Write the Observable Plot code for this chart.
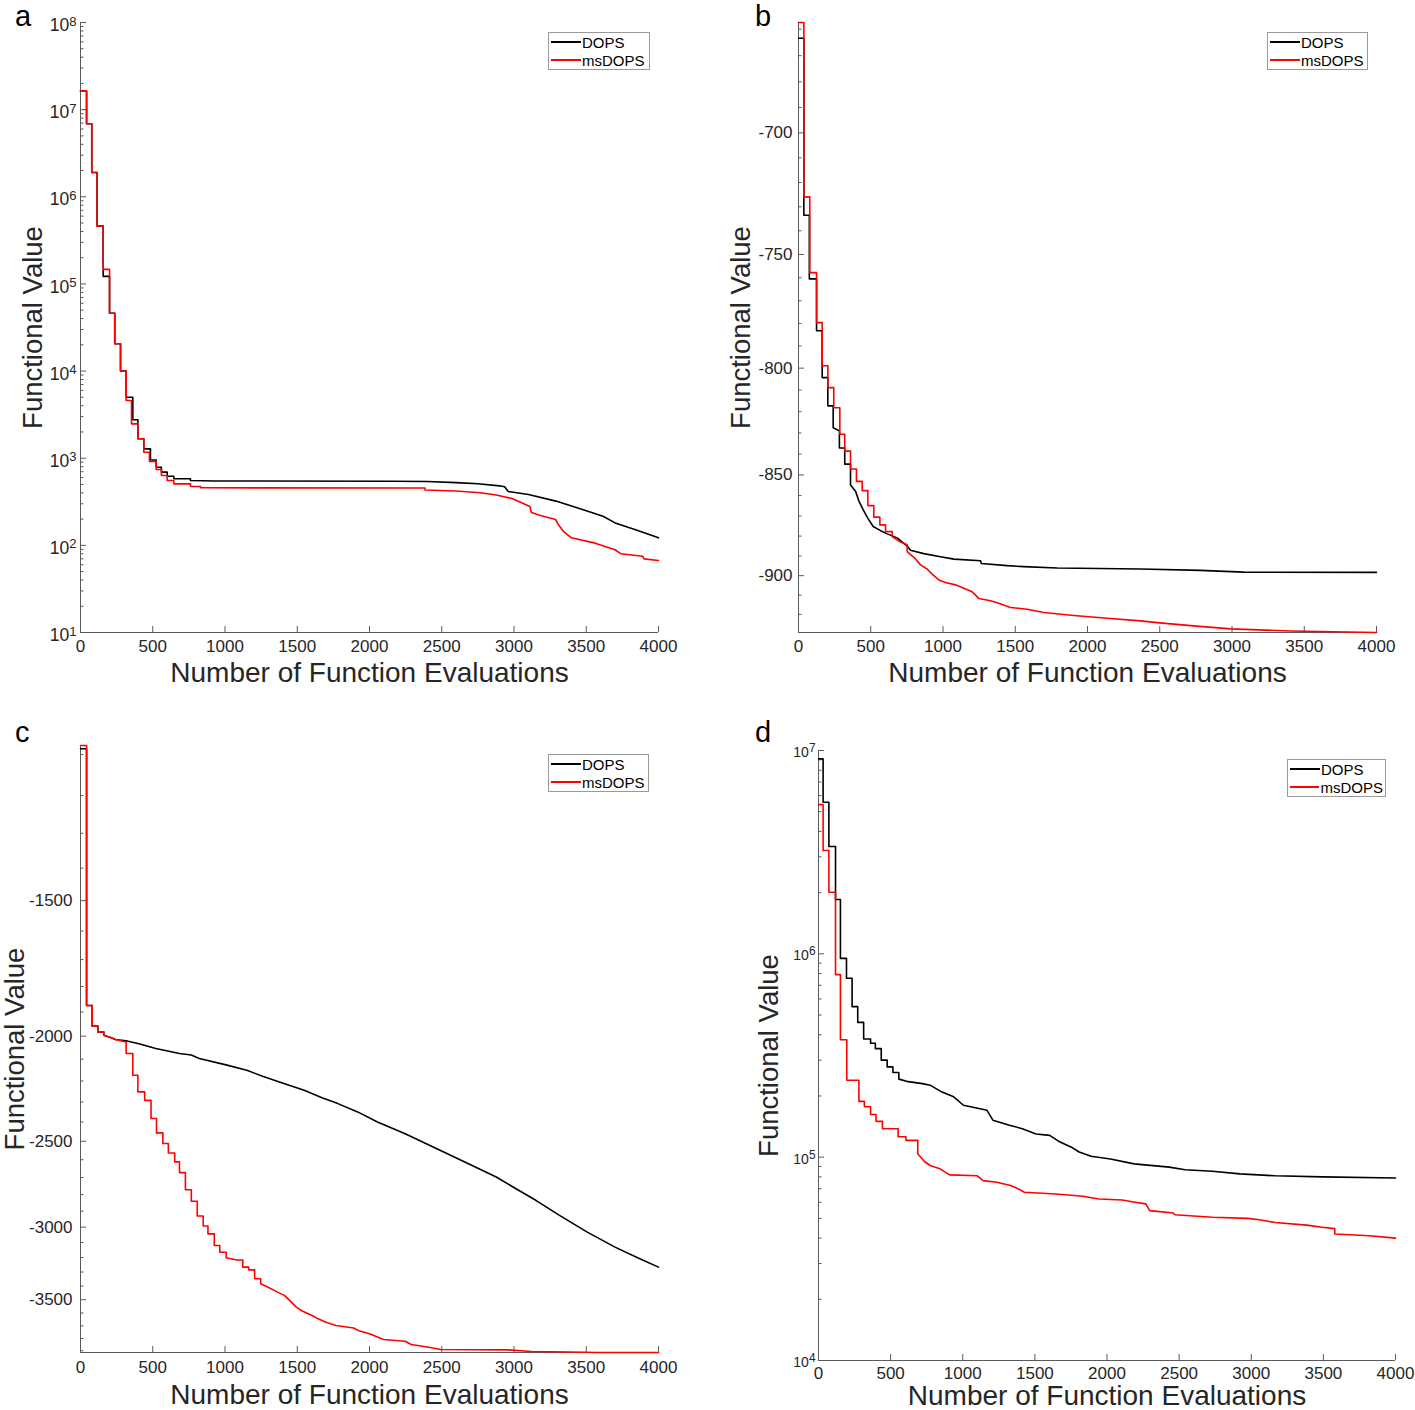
<!DOCTYPE html>
<html><head><meta charset="utf-8">
<script src="https://cdn.jsdelivr.net/npm/d3@7"></script>
<script src="https://cdn.jsdelivr.net/npm/@observablehq/plot@0.6"></script>
<style>
body{margin:0;background:#fff;font-family:"Liberation Sans",Arial,sans-serif;}
#root{position:relative;width:1415px;height:1410px;overflow:hidden;background:#fff;}
.panel{position:absolute;}
.legend{position:absolute;box-sizing:border-box;border:1px solid #9a9a9a;background:#fff;font-size:15px;color:#000;padding:0 2px;}
.legend .row{display:flex;align-items:center;height:18px;white-space:nowrap;}
.legend .sw{display:inline-block;width:30px;height:0;border-top:2px solid;margin-right:1px;}
#letters{position:absolute;left:0;top:0;pointer-events:none;}
</style></head><body><div id="root"></div>
<script>
// ---------- data (x = number of function evaluations, y = functional value) ----------
const xTicks = [0, 500, 1000, 1500, 2000, 2500, 3000, 3500, 4000];
const seriesNames = ["DOPS", "msDOPS"];

// panel a (log y)
const aTicks = [1e1, 1e2, 1e3, 1e4, 1e5, 1e6, 1e7, 1e8];
const aDOPS = [[0,1.63e7],[42,1.63e7],[42,6.9e6],[78,6.9e6],[78,1.9e6],[115,1.9e6],[115,4.6e5],[157,4.6e5],[157,1.22e5],[201,1.22e5],[201,4.6e4],[237,4.6e4],[237,2.06e4],[277,2.06e4],[277,1.0e4],[316,1.0e4],[316,5.0e3],[362,5.0e3],[362,2.76e3],[397,2.76e3],[397,1.67e3],[438,1.67e3],[438,1.28e3],[484,1.28e3],[484,955],[524,955],[524,789],[560,789],[560,692],[600,692],[600,622],[646,622],[646,581],[761,581],[761,555],[930,548],[2160,545],[2400,540],[2600,525],[2750,510],[2900,482],[2935,470],[2960,415],[3100,384],[3290,322],[3425,274],[3616,216],[3700,181],[3836,152],[4000,122]];
const aMsDOPS = [[0,1.63e7],[42,1.63e7],[42,6.9e6],[78,6.9e6],[78,1.9e6],[115,1.9e6],[115,4.6e5],[157,4.6e5],[157,1.47e5],[201,1.47e5],[201,4.6e4],[237,4.6e4],[237,2.06e4],[277,2.06e4],[277,1.0e4],[316,1.0e4],[316,4.6e3],[353,4.6e3],[353,2.48e3],[397,2.48e3],[397,1.67e3],[438,1.67e3],[438,1.17e3],[477,1.17e3],[477,916],[524,916],[524,743],[560,743],[560,634],[600,634],[600,555],[646,555],[646,508],[761,508],[761,473],[830,473],[830,458],[2384,455],[2384,432],[2600,420],[2767,402],[2877,378],[2986,345],[3068,300],[3110,280],[3120,238],[3178,222],[3288,198],[3310,170],[3342,145],[3397,122],[3562,106],[3699,89],[3740,80],[3890,75],[3900,70],[4000,67]];

// panel b (negative values, log of magnitude on the axis)
const bTicks = [-700, -750, -800, -850, -900];
const bDOPS = [[0,-663.4],[37,-663.4],[37,-733.5],[75,-733.5],[75,-760.5],[125,-760.5],[125,-783.2],[164,-783.2],[164,-804.3],[203,-804.3],[203,-817.3],[240,-817.3],[240,-827.5],[283,-829],[283,-837.1],[320,-837.1],[320,-844.8],[360,-844.8],[360,-854.8],[395,-857.9],[418,-862.7],[448,-867],[480,-871.2],[517,-875.2],[568,-877.3],[614,-878.9],[683,-880.9],[752,-885],[775,-887.1],[867,-888.8],[983,-890.4],[1075,-891.6],[1260,-892.4],[1265,-893.8],[1444,-894.9],[1559,-895.4],[1790,-896.1],[2367,-896.6],[2782,-897.3],[3080,-898.2],[4000,-898.3]];
const bMsDOPS = [[0,-657.5],[37,-657.5],[37,-725.9],[78,-725.9],[78,-757.8],[125,-757.8],[125,-779.6],[164,-779.6],[164,-798.9],[203,-798.9],[203,-808.9],[244,-808.9],[244,-818.2],[286,-818.2],[286,-830.6],[320,-830.6],[320,-838.6],[360,-838.6],[360,-847.1],[401,-847.1],[401,-853.1],[441,-853.1],[441,-857.6],[480,-857.6],[480,-864.9],[521,-864.9],[521,-870.6],[563,-870.6],[563,-874.4],[602,-874.4],[602,-877.8],[648,-877.8],[648,-880.3],[706,-883],[752,-884.3],[752,-887.8],[810,-891.5],[844,-894.5],[890,-896.6],[925,-899.2],[971,-902.2],[1017,-903.5],[1086,-904.7],[1144,-906.4],[1202,-908.3],[1248,-911.7],[1329,-912.9],[1386,-914.2],[1467,-916.4],[1582,-917.3],[1697,-919],[1905,-920.6],[2136,-922],[2367,-923.4],[2482,-924.3],[2713,-925.9],[2990,-927.6],[3405,-928.7],[4000,-929.5]];

// panel c (negative values, log of magnitude on the axis)
const cTicks = [-1500, -2000, -2500, -3000, -3500];
const cDOPS = [[0,-1086.6],[42,-1086.6],[42,-1873.7],[81,-1873.7],[81,-1958],[120,-1958],[120,-1982],[161,-1982],[161,-1996],[208,-2006],[242,-2014],[315,-2020],[411,-2034],[521,-2053],[685,-2075],[767,-2082],[822,-2097],[1014,-2127],[1151,-2150],[1260,-2178],[1397,-2209],[1548,-2243],[1671,-2279],[1781,-2308],[1918,-2349],[2055,-2400],[2247,-2460],[2466,-2540],[2685,-2622],[2877,-2697],[3014,-2765],[3151,-2834],[3315,-2926],[3507,-3032],[3699,-3130],[3863,-3205],[4000,-3266]];
const cMsDOPS = [[0,-1079],[42,-1079],[42,-1873.7],[81,-1873.7],[81,-1958],[120,-1958],[120,-1982],[161,-1982],[161,-1996],[208,-2006],[242,-2014],[316,-2025],[316,-2075],[362,-2075],[362,-2173],[397,-2173],[397,-2251],[444,-2251],[444,-2292],[488,-2292],[488,-2382],[526,-2382],[526,-2456],[570,-2456],[570,-2512],[608,-2512],[608,-2563],[652,-2563],[652,-2612],[685,-2612],[685,-2672],[726,-2672],[726,-2771],[767,-2771],[767,-2840],[808,-2840],[808,-2930],[849,-2930],[849,-2993],[882,-2993],[882,-3043],[926,-3043],[926,-3119],[964,-3119],[964,-3164],[1008,-3164],[1008,-3202],[1082,-3217],[1123,-3217],[1123,-3266],[1164,-3266],[1164,-3285],[1205,-3285],[1205,-3348],[1247,-3348],[1247,-3384],[1288,-3403],[1364,-3444],[1411,-3468],[1447,-3505],[1493,-3555],[1534,-3585],[1603,-3619],[1644,-3645],[1699,-3671],[1767,-3697],[1890,-3716],[1932,-3741],[2000,-3763],[2055,-3789],[2096,-3808],[2247,-3822],[2288,-3849],[2411,-3871],[2493,-3890],[2959,-3893],[3123,-3907],[3507,-3913],[3562,-3915],[4000,-3915]];

// panel d (log y)
const dTicks = [1e4, 1e5, 1e6, 1e7];
const dDOPS = [[0,9.1e6],[32,9.1e6],[32,5.57e6],[72,5.57e6],[72,3.37e6],[118,3.37e6],[118,1.85e6],[152,1.85e6],[152,9.5e5],[194,9.5e5],[194,7.58e5],[233,7.58e5],[233,5.5e5],[272,5.5e5],[272,4.6e5],[313,4.6e5],[313,3.81e5],[361,3.81e5],[361,3.63e5],[394,3.63e5],[394,3.42e5],[435,3.42e5],[435,3.0e5],[476,3.0e5],[476,2.78e5],[516,2.78e5],[516,2.61e5],[557,2.61e5],[557,2.42e5],[611,2.36e5],[720,2.3e5],[774,2.26e5],[856,2.09e5],[937,1.98e5],[1005,1.8e5],[1087,1.75e5],[1168,1.7e5],[1209,1.52e5],[1318,1.44e5],[1413,1.38e5],[1508,1.3e5],[1603,1.28e5],[1671,1.19e5],[1753,1.12e5],[1807,1.06e5],[1889,1.01e5],[2024,9.8e4],[2188,9.27e4],[2432,8.93e4],[2541,8.67e4],[2731,8.53e4],[2921,8.28e4],[3166,8.1e4],[3492,8.0e4],[4000,7.9e4]];
const dMsDOPS = [[0,5.42e6],[32,5.42e6],[32,3.22e6],[72,3.22e6],[72,2.01e6],[118,2.01e6],[118,7.9e5],[152,7.9e5],[152,3.78e5],[196,3.78e5],[196,2.39e5],[280,2.39e5],[280,1.88e5],[318,1.88e5],[318,1.77e5],[361,1.77e5],[361,1.62e5],[399,1.62e5],[399,1.5e5],[443,1.5e5],[443,1.38e5],[552,1.38e5],[552,1.26e5],[606,1.26e5],[606,1.21e5],[688,1.21e5],[688,1.04e5],[734,9.52e4],[774,9.1e4],[842,8.76e4],[910,8.18e4],[1101,8.1e4],[1141,7.67e4],[1236,7.53e4],[1332,7.25e4],[1386,6.98e4],[1427,6.72e4],[1644,6.59e4],[1834,6.42e4],[1943,6.23e4],[2106,6.16e4],[2174,6.04e4],[2269,5.89e4],[2296,5.46e4],[2459,5.31e4],[2470,5.21e4],[2731,5.06e4],[2976,5.0e4],[3057,4.92e4],[3166,4.77e4],[3383,4.63e4],[3492,4.52e4],[3579,4.45e4],[3579,4.19e4],[3818,4.11e4],[4000,4.0e4]];

// ---------- helpers ----------
const AXIS = "#5a5a5a", TEXT = "#262626";
const FONT = '"Liberation Sans", Arial, Helvetica, sans-serif';
function logMinor(lo, hi) { const out = []; for (let k = lo; k < hi; k++) for (let m = 2; m <= 9; m++) out.push(m * 10 ** k); return out; }
// minor ticks (magnitudes) for the negative-valued panels
function magMinor(from, to, step, majorStep) { const out = []; for (let v = from; v <= to; v += step) if (v % majorStep !== 0) out.push(v); return out; }
const powFmt = d => "10^" + Math.round(Math.log10(d));
const negFmt = d => "-" + d;   // axis works on |value|; label shows the negative value
const mag = v => Math.abs(v);

const panels = [
  {id: "a", left: 0, top: 0, W: 707, H: 705, ml: 80, mr: 49, mt: 22, mb: 73,
   domain: [10, 1e8], ticks: aTicks, minor: logMinor(1, 8), fmt: powFmt, neg: false, yFont: 17.5, supScale: 0.75, yPad: 4, yDy: 3,
   dops: aDOPS, ms: aMsDOPS, xLabelDy: 41, yLabelDx: -47, xPad: 7,
   legend: {left: 548, top: 32, width: 102, height: 38}},
  {id: "b", left: 707, top: 0, W: 708, H: 705, ml: 91, mr: 39, mt: 22, mb: 73,
   domain: [929.5, 657.5], ticks: bTicks.map(mag), minor: magMinor(660, 920, 10, 50), fmt: negFmt, neg: true, yFont: 17, yPad: 6, yDy: 0,
   dops: bDOPS, ms: bMsDOPS, xLabelDy: 41, yLabelDx: -57, xPad: 7,
   legend: {left: 1267, top: 32, width: 101, height: 38}},
  {id: "c", left: 0, top: 705, W: 707, H: 705, ml: 80, mr: 49, mt: 40, mb: 58,
   domain: [3915, 1079], ticks: cTicks.map(mag), minor: magMinor(1100, 3900, 100, 500), fmt: negFmt, neg: true, yFont: 17, yPad: 8, yDy: 0,
   dops: cDOPS, ms: cMsDOPS, xLabelDy: 43, yLabelDx: -65, xPad: 8,
   legend: {left: 548, top: 754, width: 101, height: 38}},
  {id: "d", left: 707, top: 705, W: 708, H: 705, ml: 111, mr: 20, mt: 45, mb: 50,
   domain: [1e4, 1e7], ticks: dTicks, minor: logMinor(4, 7), fmt: powFmt, neg: false, yFont: 14, supScale: 0.85, yPad: 3, yDy: 2,
   dops: dDOPS, ms: dMsDOPS, xLabelDy: 36, yLabelDx: -49, xPad: 6,
   legend: {left: 1287, top: 759, width: 99, height: 38}}
];

const root = document.getElementById("root");

for (const p of panels) {
  const pw = p.W - p.ml - p.mr, ph = p.H - p.mt - p.mb;
  const yv = p.neg ? (d => -d[1]) : (d => d[1]);
  const chart = Plot.plot({
    width: p.W, height: p.H,
    marginLeft: p.ml, marginRight: p.mr, marginTop: p.mt, marginBottom: p.mb,
    style: {fontFamily: FONT, background: "transparent", color: TEXT, overflow: "visible"},
    x: {domain: [0, 4000]},
    y: {type: "log", domain: p.domain, axis: null},
    marks: [
      Plot.tickY(p.minor, {y: d => d, stroke: AXIS, strokeWidth: 1, insetRight: pw - 3.5}),
      Plot.tickY(p.ticks, {y: d => d, stroke: AXIS, strokeWidth: 1, insetRight: pw - 6}),
      Plot.tickX(xTicks, {x: d => d, stroke: AXIS, strokeWidth: 1, insetTop: ph - 6}),
      Plot.ruleX([0], {stroke: AXIS, strokeWidth: 1}),
      Plot.ruleY([p.domain[0]], {stroke: AXIS, strokeWidth: 1}),
      // y tick labels, positioned by the y scale
      Plot.text(p.ticks, {y: d => d, text: p.fmt, frameAnchor: "left", textAnchor: "end", lineAnchor: "middle",
        dx: -p.yPad, dy: p.yDy, fontSize: p.yFont, fill: TEXT}),
      Plot.axisX({ticks: xTicks, tickSize: 0, tickPadding: p.xPad, tickFormat: d => String(d), fontSize: 17, fill: TEXT, label: null}),
      Plot.line(p.dops, {x: d => d[0], y: yv, stroke: "#000000", strokeWidth: 1.6}),
      Plot.line(p.ms, {x: d => d[0], y: yv, stroke: "#ff0000", strokeWidth: 1.6}),
      Plot.text(["Number of Function Evaluations"], {text: d => d, frameAnchor: "bottom", lineAnchor: "middle", textAnchor: "middle", dy: p.xLabelDy, fontSize: 28, fill: TEXT}),
      Plot.text(["Functional Value"], {text: d => d, frameAnchor: "left", lineAnchor: "middle", textAnchor: "middle", rotate: -90, dx: p.yLabelDx, fontSize: 27.5, fill: TEXT})
    ]
  });
  // superscript exponents for log tick labels (10^k)
  chart.querySelectorAll("text").forEach(t => {
    if (t.children.length) return;
    const s = t.textContent; const i = s.indexOf("^"); if (i < 0) return;
    t.textContent = s.slice(0, i);
    const sp = document.createElementNS("http://www.w3.org/2000/svg", "tspan");
    sp.setAttribute("dy", "-0.42em");
    sp.setAttribute("font-size", (p.supScale || 0.75) + "em");
    sp.textContent = s.slice(i + 1);
    t.appendChild(sp);
  });
  const wrap = document.createElement("div");
  wrap.className = "panel";
  wrap.style.left = p.left + "px"; wrap.style.top = p.top + "px";
  wrap.appendChild(chart);
  root.appendChild(wrap);

  // legend
  const lg = document.createElement("div");
  lg.className = "legend";
  Object.assign(lg.style, {left: p.legend.left + "px", top: p.legend.top + "px", width: p.legend.width + "px", height: p.legend.height + "px"});
  const colors = ["#000000", "#ff0000"];
  seriesNames.forEach((name, i) => {
    const row = document.createElement("div"); row.className = "row";
    const sw = document.createElement("span"); sw.className = "sw"; sw.style.borderTopColor = colors[i];
    const tx = document.createElement("span"); tx.textContent = name;
    row.appendChild(sw); row.appendChild(tx); lg.appendChild(row);
  });
  root.appendChild(lg);
}

// panel letters
const ns = "http://www.w3.org/2000/svg";
const ov = document.createElementNS(ns, "svg");
ov.setAttribute("id", "letters"); ov.setAttribute("width", 1415); ov.setAttribute("height", 1410);
[["a", 15, 26], ["b", 755, 26], ["c", 15, 742], ["d", 755, 742]].forEach(([s, x, y]) => {
  const t = document.createElementNS(ns, "text");
  t.setAttribute("x", x); t.setAttribute("y", y);
  t.setAttribute("font-size", 29); t.setAttribute("font-family", FONT); t.setAttribute("fill", "#000");
  t.textContent = s; ov.appendChild(t);
});
root.appendChild(ov);
</script></body></html>
